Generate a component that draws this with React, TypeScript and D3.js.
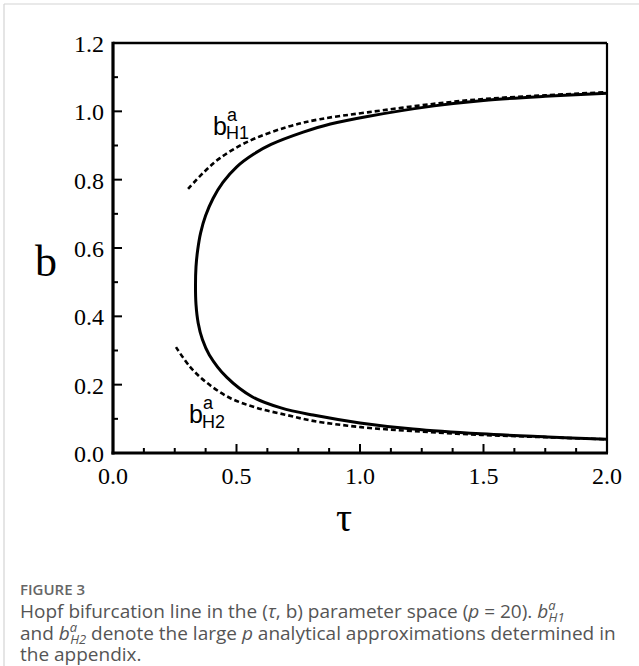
import React from 'react';
import * as d3 from 'd3';

// solid Hopf line, read from top-right round the nose to bottom-right
const hopfTau = [2.0, 1.75, 1.5, 1.3, 1.03, 0.88, 0.77, 0.64, 0.57, 0.5, 0.445, 0.405, 0.375, 0.355, 0.343, 0.336, 0.334, 0.336, 0.345, 0.362, 0.39, 0.46, 0.565, 0.68, 0.81, 1.0, 1.215, 1.49, 1.76, 2.0];
const hopfB = [1.053, 1.044, 1.032, 1.016, 0.985, 0.963, 0.939, 0.903, 0.875, 0.837, 0.792, 0.745, 0.695, 0.645, 0.595, 0.545, 0.49, 0.435, 0.38, 0.332, 0.287, 0.222, 0.164, 0.132, 0.111, 0.088, 0.07, 0.056, 0.047, 0.04];

// b^a_H1 approximation (dashed, upper)
const upperTau = [0.304, 0.364, 0.433, 0.542, 0.704, 0.838, 1.03, 1.3, 1.5, 1.75, 2.0];
const upperB = [0.773, 0.819, 0.863, 0.91, 0.954, 0.977, 0.997, 1.022, 1.036, 1.047, 1.056];

// b^a_H2 approximation (dashed, lower)
const lowerTau = [0.255, 0.312, 0.381, 0.474, 0.583, 0.704, 0.81, 1.0, 1.215, 1.49, 1.76, 2.0];
const lowerB = [0.31, 0.252, 0.205, 0.161, 0.132, 0.111, 0.094, 0.076, 0.064, 0.053, 0.046, 0.04];

const xTicks = [0, 0.5, 1.0, 1.5, 2.0];
const xMinor = [0.125, 0.25, 0.375, 0.625, 0.75, 0.875, 1.125, 1.25, 1.375, 1.625, 1.75, 1.875];
const yTicks = [0, 0.2, 0.4, 0.6, 0.8, 1.0, 1.2];
const yMinor = [0.1, 0.3, 0.5, 0.7, 0.9, 1.1];

const zip = (a: number[], b: number[]) => a.map((v, i) => [v, b[i]] as [number, number]);

export default function App() {
  const W = 639;
  const H = 666;
  const margin = { top: 43, right: 32, bottom: 213, left: 113 };

  const x = d3.scaleLinear().domain([0, 2]).range([margin.left, W - margin.right]);
  const y = d3.scaleLinear().domain([0, 1.2]).range([H - margin.bottom, margin.top]);

  const line = d3
    .line<[number, number]>()
    .x((d) => x(d[0]))
    .y((d) => y(d[1]))
    .curve(d3.curveCatmullRom.alpha(0.5));

  const serif = '"Liberation Serif", "Times New Roman", serif';
  const sans = '"Liberation Sans", Arial, sans-serif';
  const cap = '"Open Sans", "Noto Sans", sans-serif';
  const x0 = x(0), x1 = x(2), y0 = y(0), y1 = y(1.2);

  return (
    <svg width={W} height={H} style={{ position: 'absolute', left: 0, top: 0 }}>
      <rect x={0} y={0} width={W} height={H} fill="white" />
      <line x1={4} y1={4} x2={W} y2={4} stroke="#d4d4d4" strokeWidth={1.2} />
      <line x1={4} y1={4} x2={4} y2={H} stroke="#d4d4d4" strokeWidth={1.2} />

      {/* curves */}
      <path d={line(zip(upperTau, upperB)) || ''} fill="none" stroke="black" strokeWidth={2.6} strokeDasharray="5,3" />
      <path d={line(zip(lowerTau, lowerB)) || ''} fill="none" stroke="black" strokeWidth={2.6} strokeDasharray="5,3" />
      <path d={line(zip(hopfTau, hopfB)) || ''} fill="none" stroke="black" strokeWidth={3} />

      {/* frame */}
      <line x1={x0} y1={y1} x2={x1} y2={y1} stroke="black" strokeWidth={2.4} />
      <line x1={x1} y1={y1} x2={x1} y2={y0} stroke="black" strokeWidth={2.2} />
      <line x1={x0} y1={y1 - 1.2} x2={x0} y2={y0 + 1.5} stroke="black" strokeWidth={3.2} />
      <line x1={x0 - 1.5} y1={y0} x2={x1 + 1} y2={y0} stroke="black" strokeWidth={3.2} />

      {/* ticks, pointing inward */}
      {xTicks.slice(1, -1).map((t) => (
        <line key={'xt' + t} x1={x(t)} x2={x(t)} y1={y0} y2={y0 - 9} stroke="black" strokeWidth={2} />
      ))}
      {xMinor.map((t) => (
        <line key={'xm' + t} x1={x(t)} x2={x(t)} y1={y0} y2={y0 - 5} stroke="black" strokeWidth={2} />
      ))}
      {yTicks.slice(1, -1).map((t) => (
        <line key={'yt' + t} x1={x0} x2={x0 + 9} y1={y(t)} y2={y(t)} stroke="black" strokeWidth={2} />
      ))}
      {yMinor.map((t) => (
        <line key={'ym' + t} x1={x0} x2={x0 + 5} y1={y(t)} y2={y(t)} stroke="black" strokeWidth={2} />
      ))}

      {/* tick labels */}
      {xTicks.map((t) => (
        <text key={'xl' + t} x={x(t)} y={y0 + 31} textAnchor="middle" fontFamily={serif} fontSize={24}>
          {d3.format('.1f')(t)}
        </text>
      ))}
      {yTicks.map((t) => (
        <text key={'yl' + t} x={x0 - 9} y={y(t) + 9} textAnchor="end" fontFamily={serif} fontSize={24}>
          {d3.format('.1f')(t)}
        </text>
      ))}

      {/* axis titles */}
      <text x={46} y={276} textAnchor="middle" fontFamily={serif} fontSize={44}>b</text>
      <text x={344} y={531} textAnchor="middle" fontFamily={serif} fontSize={40}>τ</text>

      {/* curve labels */}
      <text x={213} y={135} fontFamily={sans} fontSize={25}>b</text>
      <text x={227} y={121} fontFamily={sans} fontSize={18}>a</text>
      <text x={226} y={139} fontFamily={sans} fontSize={18}>H1</text>
      <text x={189} y={423} fontFamily={sans} fontSize={25}>b</text>
      <text x={203} y={409} fontFamily={sans} fontSize={18}>a</text>
      <text x={202} y={428} fontFamily={sans} fontSize={18}>H2</text>

      {/* caption */}
      <text x={20} y={595} fontFamily={cap} fontSize={15} fontWeight={600} fill="#666">FIGURE 3</text>
      <text x={20} y={618} fontFamily={cap} fontSize={19} fill="#555">
        Hopf bifurcation line in the (<tspan fontStyle="italic">τ</tspan>, b) parameter space (<tspan fontStyle="italic">p</tspan> = 20).{' '}
        <tspan fontStyle="italic">b</tspan>
        <tspan fontStyle="italic" fontSize={13} dy={-8}>a</tspan>
        <tspan fontStyle="italic" fontSize={13} dx={-7} dy={12}>H1</tspan>
      </text>
      <text x={20} y={640} fontFamily={cap} fontSize={19} fill="#555">
        and <tspan fontStyle="italic">b</tspan>
        <tspan fontStyle="italic" fontSize={13} dy={-8}>a</tspan>
        <tspan fontStyle="italic" fontSize={13} dx={-7} dy={12}>H2</tspan>
        <tspan dy={-4}> denote the large </tspan>
        <tspan fontStyle="italic">p</tspan> analytical approximations determined in
      </text>
      <text x={20} y={661} fontFamily={cap} fontSize={19} fill="#555">the appendix.</text>
    </svg>
  );
}
